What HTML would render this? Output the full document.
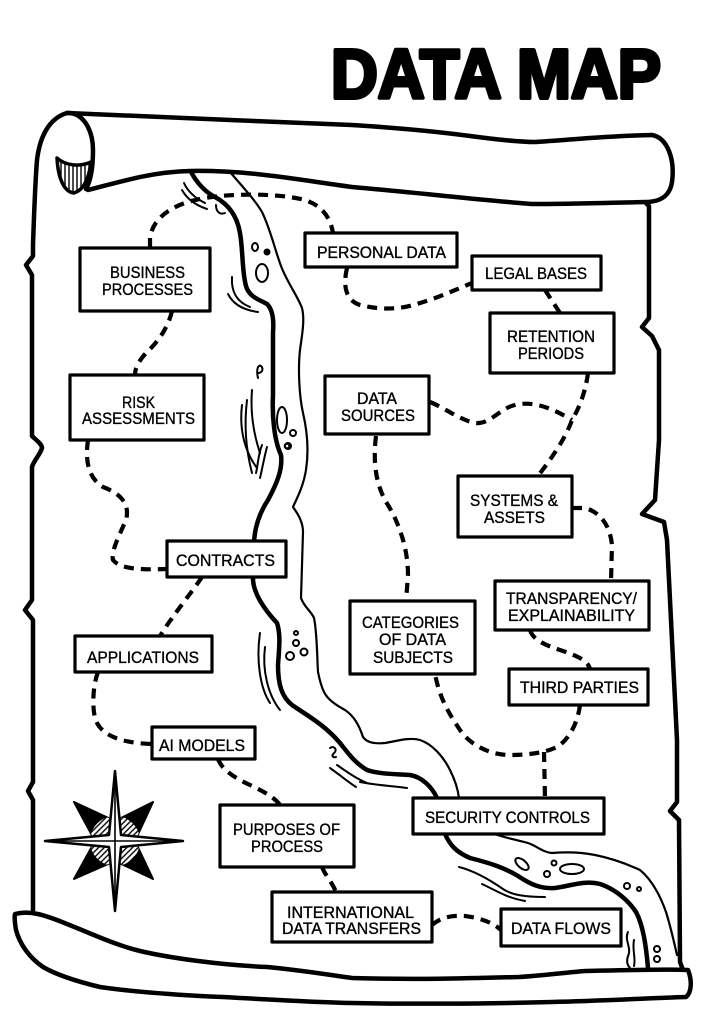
<!DOCTYPE html>
<html>
<head>
<meta charset="utf-8">
<style>
html,body{margin:0;padding:0;background:#fff;}
svg{display:block;}
.lbl{font-family:"Liberation Sans",Arial,sans-serif;font-size:16.5px;fill:#000;stroke:#000;stroke-width:0.35;}
</style>
</head>
<body>
<svg width="704" height="1024" viewBox="0 0 704 1024" xmlns="http://www.w3.org/2000/svg">
<defs>
  <pattern id="hv" width="4" height="4" patternUnits="userSpaceOnUse">
    <rect width="4" height="4" fill="#fff"/>
    <line x1="1" y1="0" x2="1" y2="4" stroke="#000" stroke-width="1.4"/>
  </pattern>
  <pattern id="hd" width="4" height="4" patternUnits="userSpaceOnUse" patternTransform="rotate(45)">
    <rect width="4" height="4" fill="#fff"/>
    <line x1="1" y1="0" x2="1" y2="4" stroke="#000" stroke-width="1.4"/>
  </pattern>
  <clipPath id="diagclip">
    <polygon points="74,802 115,821 153,802 135,841 153,879 115,861 74,879 95,841"/>
  </clipPath>
</defs>
<rect width="704" height="1024" fill="#fff"/>

<!-- Title -->
<text x="331" y="98" font-family="Liberation Sans, Arial, sans-serif" font-weight="bold" font-size="70" textLength="330" lengthAdjust="spacingAndGlyphs" stroke="#000" stroke-width="4" stroke-linejoin="round" fill="#000">DATA MAP</text>

<g fill="none" stroke="#000" stroke-linecap="round" stroke-linejoin="round">
  <!-- Sheet left edge -->
  <path stroke-width="4.5" d="M67,113 C50,118 40,135 37,160 C35,185 34,215 33,245 L33,256 L26,265 L32,275 L32,436 C36,440 42,444 42,448 C40,455 34,460 32,467 L32,600 L25,610 L33,620 L33,782 L28,791 L33,800 L33,912"/>
  <!-- Sheet right edge -->
  <path stroke-width="4.5" d="M645,202 L649,206 L649,318 L642,327 L652,336 L659,350 L659,440 L655,500 L642,514 L664,522 L667,540 L672,640 L677,740 L677,802 L670,811 L679,820 L680,962 L683,970"/>

  <!-- River left bank (thick) -->
  <path stroke-width="4.5" d="M190,170 C196,182 205,192 215,197 C228,204 237,215 240,233 C243,250 242,272 246,286 C249,297 260,300 267,304 C273,310 274,320 273,332 L273,395 C272,415 274,440 281,455 C283,470 276,485 268,500 C260,512 254,528 254,545 L253,580 C254,595 265,610 277,623 C281,635 279,650 278,665 C278,685 282,697 292,705 C305,714 325,725 340,743 C348,753 355,763 367,770 C378,774 395,774 410,775 C422,777 432,787 437,798"/>
  <path stroke-width="4.5" d="M445,834 C450,845 456,852 470,858 C490,863 505,868 518,876 C530,884 540,889 555,888 C570,886 585,880 600,884 C615,889 628,900 636,912 C643,925 646,945 648,968"/>
  <!-- River right bank (thin) -->
  <path stroke-width="2.2" d="M230,172 C242,186 255,200 262,212 C270,228 275,250 281,266 C287,282 297,295 302,308 C305,320 302,335 300,350 C298,368 299,395 303,413 C307,430 309,450 306,470 C303,488 296,500 293,507 C298,514 303,522 303,532 L301,598 C304,607 311,611 314,618 C317,632 317,655 318,672 C320,682 322,688 324,692 C328,700 336,705 345,710 C354,716 359,725 363,737 C367,743 375,744 385,743 C397,741 410,737 420,740 C432,744 443,756 450,770 C456,782 458,790 459,798"/>
  <path stroke-width="2.2" d="M495,834 C505,838 518,840 528,843 C537,846 542,852 552,853 C565,852 580,852 595,855 C610,858 625,863 640,870 C652,880 660,895 666,912 C671,928 674,942 677,955"/>

  <!-- River doodles -->
  <g stroke-width="2">
    <path d="M184,183 C188,192 195,198 205,203"/>
    <path d="M182,190 C187,199 195,205 207,209"/>
    <path d="M216,205 C216,212 220,215 225,213"/>
    <ellipse cx="255" cy="247" rx="3" ry="4"/>
    <circle cx="267" cy="252" r="2.5" fill="#000"/>
    <ellipse cx="262" cy="273" rx="6" ry="9"/>
    <path d="M232,277 C231,292 237,302 250,307"/>
    <path d="M228,294 C233,304 243,310 258,312"/>
    <path d="M258,378 C256,370 258,364 261,366 C264,369 262,373 258,373"/>
    <path d="M247,400 C244,425 246,450 252,473"/>
    <path d="M252,390 C250,415 254,435 260,453"/>
    <path d="M242,405 C239,430 245,452 257,468"/>
    <ellipse cx="282" cy="420" rx="5" ry="13"/>
    <circle cx="293" cy="433" r="3"/>
    <circle cx="288" cy="446" r="3"/>
    <path d="M262,445 C258,455 258,465 256,473"/>
    <path d="M267,447 C264,458 262,470 260,478"/>
    <circle cx="287" cy="446" r="2.3"/>
    <path d="M260,633 C256,660 260,688 270,703"/>
    <path d="M265,647 C262,670 268,695 280,710"/>
    <circle cx="296" cy="633" r="2"/>
    <circle cx="296" cy="643" r="3"/>
    <circle cx="290" cy="656" r="4"/>
    <circle cx="304" cy="652" r="3.5"/>
    <path d="M330,748 C334,745 338,750 334,753 C331,756 333,758 336,757"/>
    <path d="M337,765 C347,772 357,779 367,783"/>
    <path d="M330,768 C340,775 348,782 356,787"/>
    <path d="M360,782 C375,785 392,786 407,788"/>
    <ellipse cx="522" cy="864" rx="8" ry="4" transform="rotate(40 522 864)"/>
    <circle cx="554" cy="863" r="2.5"/>
    <circle cx="547" cy="874" r="3"/>
    <ellipse cx="572" cy="869" rx="12" ry="5"/>
    <circle cx="627" cy="886" r="3"/>
    <circle cx="639" cy="889" r="2"/>
    <circle cx="657" cy="949" r="3"/>
    <circle cx="657" cy="959" r="3"/>
    <path d="M459,867 C475,871 490,880 503,889 C512,895 525,897 545,897"/>
    <path d="M482,884 C495,890 507,898 525,901"/>
    <path d="M628,932 C624,940 632,948 628,956 C626,962 628,966 630,968"/>
    <path d="M634,940 C632,950 636,958 634,966"/>
  </g>

  <!-- Dashed connectors -->
  <g stroke-width="4.2" stroke-dasharray="10 7" stroke-linecap="butt">
    <path d="M150,248 L150,238 C152,222 165,210 185,203 C200,198 215,196 235,195 C260,194 285,195 305,200 C320,205 330,215 333,233"/>
    <path d="M347,268 C343,285 345,300 360,305 C380,310 400,310 420,303 C440,297 455,290 472,283"/>
    <path d="M545,290 L560,313"/>
    <path d="M588,373 C585,395 578,410 572,420 C565,440 550,460 538,476"/>
    <path d="M430,402 C445,408 460,420 475,423 C490,425 500,408 515,405 C535,400 555,410 572,420"/>
    <path d="M376,436 C373,460 375,485 388,505 C400,525 408,550 408,575 L406,601"/>
    <path d="M172,311 C168,328 158,342 146,353 C138,362 135,368 135,375"/>
    <path d="M88,440 C85,460 88,478 103,487 C122,494 130,505 126,520 C118,538 111,552 113,560 C120,569 140,570 167,569"/>
    <path d="M202,577 C190,595 175,612 160,636"/>
    <path d="M98,672 C93,685 92,705 95,718 C100,735 120,743 152,744"/>
    <path d="M218,759 C222,770 235,778 250,785 C265,792 275,798 280,805"/>
    <path d="M322,867 C325,875 332,882 336,892"/>
    <path d="M432,925 C440,918 450,915 465,916 C480,918 492,922 501,930"/>
    <path d="M572,508 L585,508 C600,512 610,525 612,545 L611,581"/>
    <path d="M530,630 C533,640 545,645 560,650 C575,655 588,660 590,669"/>
    <path d="M580,705 C578,720 572,735 560,745 C550,752 530,755 510,755 C490,755 470,745 460,730 C450,715 440,700 435,674"/>
    <path d="M544,752 L545,798"/>
  </g>
</g>

<!-- Top roll -->
<g fill="none" stroke="#000" stroke-width="4.5" stroke-linecap="round" stroke-linejoin="round">
  <path fill="#fff" d="M67,113 C150,117 260,121 352,125 C400,128 440,132 470,136 C500,140 520,142 535,142 C570,140 600,136 652,135 C668,138 675,160 672,182 C670,195 662,202 645,202 C600,203 565,204 532,204 C480,200 420,193 352,187 C300,180 250,170 190,171 C150,172 120,182 88,190 L80,150 Z" stroke="none"/>
  <path d="M67,113 C150,117 260,121 352,125 C400,128 440,132 470,136 C500,140 520,142 535,142 C570,140 600,136 652,135 C668,138 675,160 672,182 C670,195 662,202 645,202 C600,203 565,204 532,204 C480,200 420,193 352,187 C300,180 250,170 190,171 C150,172 120,182 88,190"/>
  <path d="M67,113 C83,112 93,130 93,150 C93,170 90,182 86,189"/>
  <path fill="url(#hv)" stroke-width="3.5" d="M57,158 C66,166 80,167 91,162 C89,178 84,190 74,193 C64,192 58,178 57,158 Z"/>
</g>

<!-- Bottom roll -->
<path fill="#fff" stroke="#000" stroke-width="4.5" stroke-linejoin="round" d="M15,914 C30,910 45,915 67,924 C90,933 115,945 140,951 C170,958 220,965 267,967 C300,970 330,975 352,978 C420,980 480,978 519,977 C550,975 570,972 585,971 C630,970 665,969 688,970 C692,980 692,992 686,997 C650,998 600,1001 552,1002 C480,1004 400,1004 352,1003 C300,1002 250,998 200,996 C150,993 120,990 100,987 C75,981 55,974 43,967 C30,958 20,945 16,930 C15,924 14,918 15,914 Z"/>

<!-- Compass rose -->
<g>
  <polygon points="74,802 115,821 153,802 135,841 153,879 115,861 74,879 95,841" fill="#000" stroke="#000" stroke-width="2" stroke-linejoin="round"/>
  <circle cx="115" cy="841" r="25" fill="url(#hd)" clip-path="url(#diagclip)"/>
  <polygon points="115,771 121,835 183,841 121,847 115,911 109,847 45,841 109,835" fill="#fff" stroke="#000" stroke-width="2.5" stroke-linejoin="round"/>
  <path d="M115,775 L115,907 M49,841 L179,841" stroke="#000" stroke-width="1.6" fill="none"/>
</g>

<!-- Boxes -->
<g fill="#fff" stroke="#000" stroke-width="3.2" stroke-linejoin="round">
  <rect x="80" y="248" width="130" height="63"/>
  <rect x="305" y="233" width="152" height="34"/>
  <rect x="472" y="256" width="129" height="34"/>
  <rect x="490" y="313" width="124" height="60"/>
  <rect x="70" y="375" width="134" height="65"/>
  <rect x="325" y="376" width="104" height="58"/>
  <rect x="458" y="476" width="114" height="61"/>
  <rect x="167" y="541" width="119" height="36"/>
  <rect x="495" y="581" width="154" height="49"/>
  <rect x="350" y="601" width="125" height="73"/>
  <rect x="75" y="636" width="137" height="36"/>
  <rect x="509" y="669" width="139" height="36"/>
  <rect x="152" y="727" width="103" height="32"/>
  <rect x="413" y="798" width="191" height="36"/>
  <rect x="220" y="805" width="134" height="62"/>
  <rect x="272" y="892" width="160" height="50"/>
  <rect x="501" y="909" width="120" height="37"/>
</g>

<!-- Labels -->
<g class="lbl">
  <text class="lbl" x="110" y="278" textLength="75" lengthAdjust="spacingAndGlyphs">BUSINESS</text>
  <text class="lbl" x="102" y="295" textLength="91" lengthAdjust="spacingAndGlyphs">PROCESSES</text>
  <text class="lbl" x="317" y="258" textLength="129" lengthAdjust="spacingAndGlyphs">PERSONAL DATA</text>
  <text class="lbl" x="485" y="279" textLength="102" lengthAdjust="spacingAndGlyphs">LEGAL BASES</text>
  <text class="lbl" x="507" y="342" textLength="88" lengthAdjust="spacingAndGlyphs">RETENTION</text>
  <text class="lbl" x="518" y="359" textLength="66" lengthAdjust="spacingAndGlyphs">PERIODS</text>
  <text class="lbl" x="122" y="408" textLength="33" lengthAdjust="spacingAndGlyphs">RISK</text>
  <text class="lbl" x="82" y="424" textLength="113" lengthAdjust="spacingAndGlyphs">ASSESSMENTS</text>
  <text class="lbl" x="357" y="404" textLength="40" lengthAdjust="spacingAndGlyphs">DATA</text>
  <text class="lbl" x="341" y="421" textLength="74" lengthAdjust="spacingAndGlyphs">SOURCES</text>
  <text class="lbl" x="470" y="506" textLength="88" lengthAdjust="spacingAndGlyphs">SYSTEMS &amp;</text>
  <text class="lbl" x="484" y="523" textLength="61" lengthAdjust="spacingAndGlyphs">ASSETS</text>
  <text class="lbl" x="176" y="566" textLength="99" lengthAdjust="spacingAndGlyphs">CONTRACTS</text>
  <text class="lbl" x="506" y="604" textLength="131" lengthAdjust="spacingAndGlyphs">TRANSPARENCY/</text>
  <text class="lbl" x="508" y="621" textLength="127" lengthAdjust="spacingAndGlyphs">EXPLAINABILITY</text>
  <text class="lbl" x="362" y="628" textLength="97" lengthAdjust="spacingAndGlyphs">CATEGORIES</text>
  <text class="lbl" x="379" y="645" textLength="67" lengthAdjust="spacingAndGlyphs">OF DATA</text>
  <text class="lbl" x="373" y="663" textLength="80" lengthAdjust="spacingAndGlyphs">SUBJECTS</text>
  <text class="lbl" x="87" y="663" textLength="112" lengthAdjust="spacingAndGlyphs">APPLICATIONS</text>
  <text class="lbl" x="520" y="693" textLength="119" lengthAdjust="spacingAndGlyphs">THIRD PARTIES</text>
  <text class="lbl" x="159" y="751" textLength="86" lengthAdjust="spacingAndGlyphs">AI MODELS</text>
  <text class="lbl" x="425" y="823" textLength="165" lengthAdjust="spacingAndGlyphs">SECURITY CONTROLS</text>
  <text class="lbl" x="233" y="835" textLength="107" lengthAdjust="spacingAndGlyphs">PURPOSES OF</text>
  <text class="lbl" x="251" y="852" textLength="72" lengthAdjust="spacingAndGlyphs">PROCESS</text>
  <text class="lbl" x="287" y="918" textLength="127" lengthAdjust="spacingAndGlyphs">INTERNATIONAL</text>
  <text class="lbl" x="282" y="934" textLength="139" lengthAdjust="spacingAndGlyphs">DATA TRANSFERS</text>
  <text class="lbl" x="511" y="934" textLength="100" lengthAdjust="spacingAndGlyphs">DATA FLOWS</text>
</g>
</svg>
</body>
</html>
